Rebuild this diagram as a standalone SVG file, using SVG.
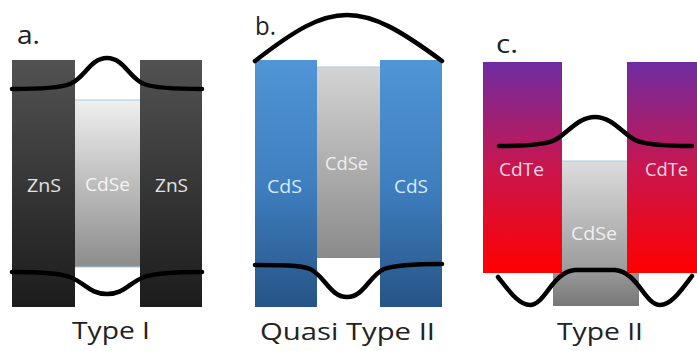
<svg xmlns="http://www.w3.org/2000/svg" width="697" height="351" viewBox="0 0 697 351">
<defs>
<linearGradient id="gZnS" x1="0" y1="0" x2="0" y2="1"><stop offset="0" stop-color="#525252"/><stop offset="1" stop-color="#1c1c1c"/></linearGradient>
<linearGradient id="gCdSeA" x1="0" y1="0" x2="0" y2="1"><stop offset="0" stop-color="#efefef"/><stop offset="1" stop-color="#8c8c8c"/></linearGradient>
<linearGradient id="gCdS" x1="0" y1="0" x2="0" y2="1"><stop offset="0" stop-color="#5095d6"/><stop offset="0.5" stop-color="#3f7fc0"/><stop offset="1" stop-color="#265486"/></linearGradient>
<linearGradient id="gCdSeB" x1="0" y1="0" x2="0" y2="1"><stop offset="0" stop-color="#d4d4d4"/><stop offset="1" stop-color="#8a8a8a"/></linearGradient>
<linearGradient id="gCdTe" x1="0" y1="0" x2="0" y2="1"><stop offset="0" stop-color="#6e2ca2"/><stop offset="0.5" stop-color="#c8164e"/><stop offset="1" stop-color="#ff0000"/></linearGradient>
<linearGradient id="gCdSeC" x1="0" y1="0" x2="0" y2="1"><stop offset="0" stop-color="#dcdcdc"/><stop offset="1" stop-color="#9a9a9a"/></linearGradient>
<linearGradient id="gCdSeC2" x1="0" y1="0" x2="0" y2="1"><stop offset="0" stop-color="#9a9a9a"/><stop offset="1" stop-color="#777777"/></linearGradient>
</defs>
<style>
text{font-family:"Open Sans","Noto Sans","Liberation Sans",sans-serif;}
.in{font-size:18px;}
.lbl{font-size:25px;fill:#222;}
.cap{font-size:24px;fill:#222;}
.curve{fill:none;stroke:#000;stroke-width:4.5;stroke-linecap:round;}
.edge{stroke:#a8c8e0;stroke-width:1;}
</style>
<rect width="697" height="351" fill="#fff"/>

<g id="panel-a">
<g id="a-zns-left"><rect x="12" y="60" width="63" height="247" fill="url(#gZnS)"/><text class="in" x="27" y="192" textLength="34" lengthAdjust="spacingAndGlyphs" fill="#e2e2e2">ZnS</text></g>
<g id="a-cdse"><rect x="75" y="100" width="65" height="167" fill="url(#gCdSeA)"/><line class="edge" x1="75" y1="100" x2="140" y2="100"/><line class="edge" x1="75" y1="267" x2="140" y2="267"/><text class="in" x="85" y="191" textLength="45" lengthAdjust="spacingAndGlyphs" fill="#f4f4f4">CdSe</text></g>
<g id="a-zns-right"><rect x="140" y="60" width="62" height="247" fill="url(#gZnS)"/><text class="in" x="155" y="192" textLength="33" lengthAdjust="spacingAndGlyphs" fill="#e2e2e2">ZnS</text></g>
<text id="a-letter" class="lbl" x="17" y="44" textLength="23" lengthAdjust="spacingAndGlyphs">a.</text>
<text id="a-caption" class="cap" x="72" y="339" textLength="78" lengthAdjust="spacingAndGlyphs">Type I</text>
</g>

<g id="panel-b">
<g id="b-cds-left"><rect x="255" y="60" width="62" height="247" fill="url(#gCdS)"/><text class="in" x="267" y="193" textLength="35" lengthAdjust="spacingAndGlyphs" fill="#d6ebf8">CdS</text></g>
<g id="b-cdse"><rect x="317" y="67" width="63" height="191" fill="url(#gCdSeB)"/><line class="edge" x1="317" y1="67" x2="380" y2="67"/><text class="in" x="325" y="170" textLength="43" lengthAdjust="spacingAndGlyphs" fill="#eeeeee">CdSe</text></g>
<g id="b-cds-right"><rect x="380" y="60" width="62" height="247" fill="url(#gCdS)"/><text class="in" x="394" y="193" textLength="34" lengthAdjust="spacingAndGlyphs" fill="#d6ebf8">CdS</text></g>
<text id="b-letter" class="lbl" x="255" y="35" textLength="21" lengthAdjust="spacingAndGlyphs">b.</text>
<text id="b-caption" class="cap" x="260" y="340" textLength="175" lengthAdjust="spacingAndGlyphs">Quasi Type II</text>
</g>

<g id="panel-c">
<g id="c-cdse"><rect x="562" y="161" width="65" height="112" fill="url(#gCdSeC)"/><line class="edge" x1="562" y1="161" x2="627" y2="161"/><rect x="553" y="270" width="86" height="36" fill="url(#gCdSeC2)"/><text class="in" x="571" y="240" textLength="46" lengthAdjust="spacingAndGlyphs" fill="#f0f0f0">CdSe</text></g>
<g id="c-cdte-left"><rect x="483" y="62" width="79" height="211" fill="url(#gCdTe)"/><text class="in" x="499" y="176" textLength="45" lengthAdjust="spacingAndGlyphs" fill="#f8d8e6">CdTe</text></g>
<g id="c-cdte-right"><rect x="627" y="62" width="70" height="211" fill="url(#gCdTe)"/><text class="in" x="645" y="176" textLength="43" lengthAdjust="spacingAndGlyphs" fill="#f8d8e6">CdTe</text></g>
<text id="c-letter" class="lbl" x="496" y="53" textLength="22" lengthAdjust="spacingAndGlyphs">c.</text>
<text id="c-caption" class="cap" x="557" y="340" textLength="86" lengthAdjust="spacingAndGlyphs">Type II</text>
</g>

<g id="connectors">
<path class="curve" d="M12,89 C40,89 60,88 70,84 C85,78 90,58 107,58 C124,58 129,78 144,84 C155,88 180,89 202,89"/>
<path class="curve" d="M12,272 C40,272 60,273 70,277 C85,283 90,294 107,294 C124,294 129,283 144,277 C155,273 180,272 202,272"/>
<path class="curve" d="M255,61 C295,30 320,15 347,15 C374,15 400,30 442,61"/>
<path class="curve" d="M255,265 C280,265 300,265 310,269 C325,276 330,297 347,297 C364,297 369,276 384,269 C395,265 420,264 442,264"/>
<path class="curve" d="M499,146 C525,146 545,145 555,140 C568,133 578,117 595,117 C612,117 622,133 635,140 C645,145 665,146 692,146"/>
<path class="curve" d="M498,277 C510,292 519,305 530,305 C545,305 552,272 575,270 L615,270 C638,272 645,305 660,305 C671,305 680,292 692,276"/>
</g>
</svg>
